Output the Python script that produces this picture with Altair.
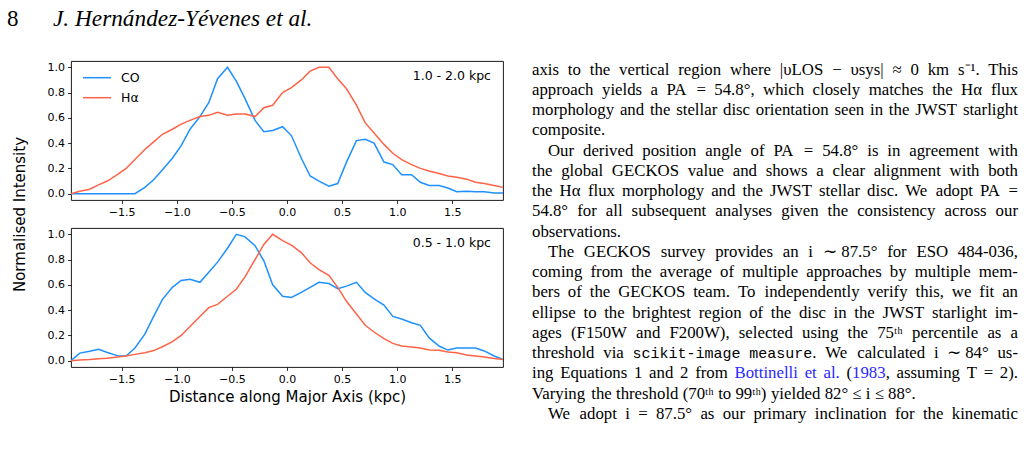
import altair as alt
import pandas as pd

# ---------------- data ----------------
X = [-1.96, -1.88, -1.79, -1.71, -1.63, -1.54, -1.46, -1.38, -1.29, -1.21, -1.13, -1.04,
     -0.96, -0.88, -0.79, -0.71, -0.63, -0.54, -0.46, -0.38, -0.29, -0.21, -0.13, -0.04,
     0.04, 0.13, 0.21, 0.29, 0.38, 0.46, 0.54, 0.63, 0.71, 0.79, 0.88, 0.96,
     1.04, 1.13, 1.21, 1.29, 1.38, 1.46, 1.54, 1.63, 1.71, 1.79, 1.88, 1.96]

TOP_CO = [0, 0, 0, 0, 0, 0, 0, 0, 0.05, 0.11, 0.19, 0.28, 0.38, 0.51, 0.61, 0.72,
          0.91, 1.0, 0.89, 0.75, 0.58, 0.49, 0.50, 0.53, 0.46, 0.28, 0.14, 0.10,
          0.06, 0.08, 0.25, 0.42, 0.43, 0.40, 0.25, 0.23, 0.15, 0.15, 0.09, 0.065,
          0.065, 0.045, 0.015, 0.02, 0.015, 0.015, 0.005, 0.005]
TOP_HA = [0, 0.02, 0.035, 0.07, 0.10, 0.15, 0.20, 0.27, 0.35, 0.41, 0.47, 0.51,
          0.55, 0.58, 0.61, 0.62, 0.645, 0.62, 0.63, 0.63, 0.61, 0.68, 0.70, 0.80,
          0.84, 0.90, 0.97, 1.0, 1.0, 0.91, 0.83, 0.70, 0.56, 0.48, 0.39, 0.32,
          0.27, 0.23, 0.20, 0.18, 0.16, 0.14, 0.13, 0.115, 0.09, 0.08, 0.065, 0.05]
BOT_CO = [0, 0.06, 0.075, 0.09, 0.065, 0.04, 0.037, 0.10, 0.21, 0.35, 0.485, 0.58,
          0.635, 0.645, 0.62, 0.70, 0.78, 0.89, 1.0, 0.98, 0.91, 0.79, 0.60, 0.51,
          0.50, 0.54, 0.58, 0.62, 0.61, 0.57, 0.59, 0.62, 0.54, 0.49, 0.44, 0.35,
          0.33, 0.30, 0.28, 0.18, 0.116, 0.084, 0.10, 0.10, 0.10, 0.077, 0.037, 0.01]
BOT_HA = [0, 0.005, 0.01, 0.016, 0.02, 0.03, 0.037, 0.05, 0.063, 0.08, 0.11, 0.15,
          0.20, 0.27, 0.35, 0.42, 0.445, 0.51, 0.565, 0.665, 0.80, 0.92, 1.0, 0.95,
          0.915, 0.855, 0.775, 0.72, 0.675, 0.58, 0.47, 0.37, 0.28, 0.227, 0.174, 0.137,
          0.116, 0.108, 0.10, 0.084, 0.082, 0.069, 0.063, 0.045, 0.037, 0.03, 0.018, 0.01]

SERIES = ["CO", "Hα"]
COLORS = ["#1e90ff", "#ff6347"]
PANEL_LABELS = ["1.0 - 2.0 kpc", "0.5 - 1.0 kpc"]
X_TICKS = [-1.5, -1.0, -0.5, 0.0, 0.5, 1.0, 1.5]
Y_TICKS = [0.0, 0.2, 0.4, 0.6, 0.8, 1.0]
X_TITLE = "Distance along Major Axis (kpc)"
Y_TITLE = "Normalised Intensity"

HEADER_NUM = "8"
HEADER_AUTHORS = "J. Hernández-Yévenes et al."

# body text of the right-hand column; styled runs: n = roman, m = monospace, b = link
LINES = [
    "axis to the vertical region where |υLOS − υsys| ≈ 0 km s⁻¹. This",
    "approach yields a PA = 54.8°, which closely matches the Hα flux",
    "morphology and the stellar disc orientation seen in the JWST starlight",
    "composite.",
    "Our derived position angle of PA = 54.8° is in agreement with",
    "the global GECKOS value and shows a clear alignment with both",
    "the Hα flux morphology and the JWST stellar disc. We adopt PA =",
    "54.8° for all subsequent analyses given the consistency across our",
    "observations.",
    "The GECKOS survey provides an i ∼ 87.5° for ESO 484-036,",
    "coming from the average of multiple approaches by multiple mem-",
    "bers of the GECKOS team. To independently verify this, we fit an",
    "ellipse to the brightest region of the disc in the JWST starlight im-",
    "ages (F150W and F200W), selected using the 75ᵗʰ percentile as a",
    [("threshold via ", "n"), ("scikit-image measure", "m"), (". We calculated i ∼ 84° us-", "n")],
    [("ing Equations 1 and 2 from ", "n"), ("Bottinelli et al.", "b"), (" (", "n"),
     ("1983", "b"), (", assuming T = 2).", "n")],
    "Varying the threshold (70ᵗʰ to 99ᵗʰ) yielded 82° ≤ i ≤ 88°.",
    "We adopt i = 87.5° as our primary inclination for the kinematic",
]
PARA_START = [0, 0, 0, 0, 1, 0, 0, 0, 0, 1, 0, 0, 0, 0, 0, 0, 0, 1]
PARA_END = [0, 0, 0, 1, 0, 0, 0, 0, 1, 0, 0, 0, 0, 0, 0, 0, 1, 0]

SANS = "DejaVu Sans"
SERIF = "Liberation Serif"
MONO = "Liberation Mono"
BODY_SIZE = 16.8
MONO_SIZE = 15
COL_W = 486
INDENT = 16
LINK = "#2a2aff"
one = pd.DataFrame({"k": [0]})

# Times-compatible advance widths (1/1000 em) used to justify the column
TW = {' ': 250, '!': 333, '(': 333, ')': 333, ',': 250, '-': 333, '.': 250, '/': 278,
      ':': 278, ';': 278, '=': 564, '|': 200, '°': 400, '−': 564, '≈': 549, '∼': 541,
      'α': 550, 'υ': 500, '⁻': 330, '¹': 300, 'ᵗ': 200, 'ʰ': 330, '≤': 549,
      'A': 722, 'B': 667, 'C': 667, 'D': 722, 'E': 611, 'F': 556, 'G': 722, 'H': 722,
      'I': 333, 'J': 389, 'K': 722, 'L': 611, 'M': 889, 'N': 722, 'O': 722, 'P': 556,
      'Q': 722, 'R': 667, 'S': 556, 'T': 611, 'U': 722, 'V': 722, 'W': 944, 'X': 722,
      'Y': 722, 'Z': 611, 'a': 444, 'b': 500, 'c': 444, 'd': 500, 'e': 444, 'f': 333,
      'g': 500, 'h': 500, 'i': 278, 'j': 278, 'k': 500, 'l': 278, 'm': 778, 'n': 500,
      'o': 500, 'p': 500, 'q': 500, 'r': 333, 's': 389, 't': 278, 'u': 500, 'v': 500,
      'w': 722, 'x': 500, 'y': 500, 'z': 444}


def run_width(txt, style):
    if style == "m":
        return len(txt) * 0.6 * MONO_SIZE
    return sum(TW.get(c, 500) for c in txt) * BODY_SIZE / 1000


rows = []
for li, (runs, ps, pe) in enumerate(zip(LINES, PARA_START, PARA_END)):
    if isinstance(runs, str):
        runs = [(runs, "n")]
    words = [[]]
    for txt, st in runs:
        for j, part in enumerate(txt.split(" ")):
            if j > 0:
                words.append([])
            if part:
                words[-1].append((part, st))
    words = [w for w in words if w]
    widths = [sum(run_width(t, s) for t, s in w) for w in words]
    x0 = INDENT if ps else 0
    gap = 250 * BODY_SIZE / 1000
    if not pe and len(words) > 1:
        gap = (COL_W - x0 - sum(widths)) / (len(words) - 1)
    xpos = x0
    for w, ww in zip(words, widths):
        xx = xpos
        for t, s in w:
            rows.append({"line": li, "x": xx, "text": t, "style": s})
            xx += run_width(t, s)
        xpos += ww + gap
words_df = pd.DataFrame(rows)


def panel(co, ha, label, bottom):
    df = pd.DataFrame({
        "x": X + X,
        "y": co + ha,
        "series": [SERIES[0]] * len(X) + [SERIES[1]] * len(X),
    })
    xaxis_kw = dict(values=X_TICKS, format=".1f", grid=False, domain=False,
                    tickSize=3.5, tickWidth=0.8, tickColor="#000",
                    labelFont=SANS, labelFontSize=11, labelColor="#000", labelPadding=3)
    yaxis_kw = dict(values=Y_TICKS, format=".1f", grid=False, domain=False,
                    tickSize=3.5, tickWidth=0.8, tickColor="#000",
                    labelFont=SANS, labelFontSize=11, labelColor="#000", labelPadding=3)
    if bottom:
        xenc = alt.X("x:Q", title=X_TITLE,
                     scale=alt.Scale(domain=[-1.96, 1.96], nice=False, zero=False),
                     axis=alt.Axis(titleFont=SANS, titleFontSize=15, titleFontWeight="normal",
                                   titleColor="#000", titlePadding=5, **xaxis_kw))
        yenc = alt.Y("y:Q", title=Y_TITLE,
                     scale=alt.Scale(domain=[-0.05, 1.05], nice=False, zero=False),
                     axis=alt.Axis(titleFont=SANS, titleFontSize=15, titleFontWeight="normal",
                                   titleColor="#000", titleX=-52, titleY=-14,
                                   titleBaseline="middle", **yaxis_kw))
    else:
        xenc = alt.X("x:Q", title=None,
                     scale=alt.Scale(domain=[-1.96, 1.96], nice=False, zero=False),
                     axis=alt.Axis(**xaxis_kw))
        yenc = alt.Y("y:Q", title=None,
                     scale=alt.Scale(domain=[-0.05, 1.05], nice=False, zero=False),
                     axis=alt.Axis(**yaxis_kw))

    lines = alt.Chart(df).mark_line(strokeWidth=1.5).encode(
        x=xenc, y=yenc,
        color=alt.Color("series:N", scale=alt.Scale(domain=SERIES, range=COLORS), legend=None),
    )
    annot = alt.Chart(one).mark_text(align="right", baseline="middle", font=SANS,
                                     fontSize=12.5, color="#000").encode(
        x=alt.value(420), y=alt.value(15), text=alt.value(label))
    layers = [lines, annot]
    if not bottom:
        for i, (s, c) in enumerate(zip(SERIES, COLORS)):
            yy = 16.7 + 20 * i
            layers.append(alt.Chart(one).mark_rule(color=c, strokeWidth=1.5).encode(
                x=alt.value(12), x2=alt.value(40), y=alt.value(yy)))
            layers.append(alt.Chart(one).mark_text(align="left", baseline="middle", font=SANS,
                                                   fontSize=12.5, color="#000").encode(
                x=alt.value(50), y=alt.value(yy), text=alt.value(s)))
    return alt.layer(*layers).properties(
        width=432, height=139,
        view=alt.ViewBackground(stroke="#000", strokeWidth=0.9))


top = panel(TOP_CO, TOP_HA, PANEL_LABELS[0], False)
bot = panel(BOT_CO, BOT_HA, PANEL_LABELS[1], True)
left = alt.vconcat(top, bot, spacing=28, bounds="flush")

# ---------------- text column ----------------
y_line = alt.Y("line:Q", scale=alt.Scale(domain=[0, 17], range=[13.5, 358]), axis=None)
x_word = alt.X("x:Q", scale=alt.Scale(domain=[0, COL_W], range=[0, COL_W]), axis=None)


def words_layer(style, font, size, color):
    d = words_df[words_df["style"] == style]
    return alt.Chart(d).mark_text(align="left", baseline="alphabetic", font=font,
                                  fontSize=size, color=color).encode(
        x=x_word, y=y_line, text="text:N")


body_n = words_layer("n", SERIF, BODY_SIZE, "#000")
body_m = words_layer("m", MONO, MONO_SIZE, "#000")
body_b = words_layer("b", SERIF, BODY_SIZE, LINK)

header_num = alt.Chart(one).mark_text(align="left", baseline="alphabetic", font=SERIF,
                                      fontSize=23, color="#000").encode(
    x=alt.value(-525), y=alt.value(-35), text=alt.value(HEADER_NUM))
header_auth = alt.Chart(one).mark_text(align="left", baseline="alphabetic", font=SERIF,
                                       fontSize=23.3, fontStyle="italic", color="#000").encode(
    x=alt.value(-479), y=alt.value(-35), text=alt.value(HEADER_AUTHORS))

# invisible page frame so the whole figure maps onto the 1024x454 page
page = alt.Chart(one).mark_rule(strokeOpacity=0, strokeWidth=0).encode(
    x=alt.value(-532), x2=alt.value(492), y=alt.value(-61), y2=alt.value(393))

text_col = alt.layer(page, body_n, body_m, body_b, header_num, header_auth).properties(
    width=COL_W, height=306, view=alt.ViewBackground(strokeOpacity=0))

# with flush bounds the nested left column counts as zero width,
# so the spacing carries the panel width (432) plus the 29 px gutter
chart = alt.hconcat(left, text_col, spacing=461, bounds="flush").properties(
    padding=0, background="white")

chart.save("out.html", embed_options={"renderer": "svg", "actions": False})
